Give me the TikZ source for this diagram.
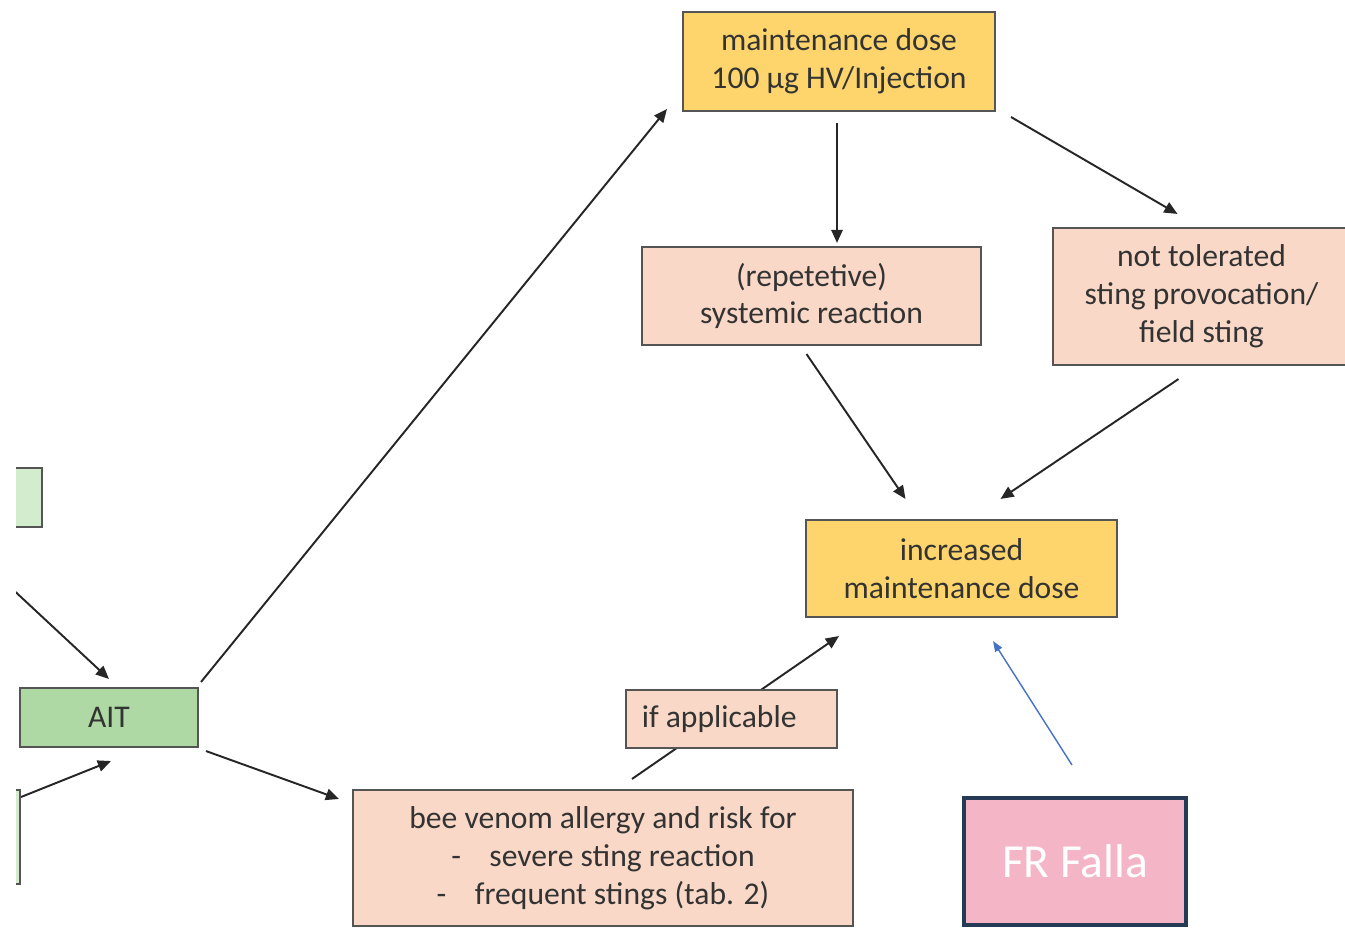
\documentclass[tikz,border=0pt]{standalone}
\usepackage{fontspec}
\setmainfont{Carlito}
\usetikzlibrary{arrows.meta,calc}
\definecolor{txt}{HTML}{333333}
\definecolor{edge}{HTML}{555555}
\definecolor{greenA}{HTML}{AED9A5}
\definecolor{greenB}{HTML}{D3ECCD}
\definecolor{peach}{HTML}{F9D8C7}
\definecolor{yel}{HTML}{FDD56C}
\definecolor{pinkbox}{HTML}{F4B6C6}
\definecolor{navy}{HTML}{243A55}
\definecolor{blueln}{HTML}{4472C4}
\tikzset{
  box/.style={draw=edge, line width=1.2pt, rectangle, inner sep=0pt, align=center,
    text=txt, font=\fontsize{18}{21.5}\selectfont},
  arr/.style={draw=black!85, line width=1.1pt, -{Triangle[length=7.5pt,width=6.5pt]}},
  barr/.style={draw=blueln, line width=0.8pt, -{Triangle[length=6pt,width=4.5pt]}},
}
\begin{document}
\begin{tikzpicture}[x=0.02cm,y=-0.02cm]
\useasboundingbox[fill=white] (0,0) rectangle (1345,928);
\begin{scope}
\clip (16,0) rectangle (1345,928);
\node[box, fill=greenB, minimum width=1.24cm, minimum height=1.18cm] (g1) at (11,497.5) {};
\node[box, fill=greenB, minimum width=1.6cm, minimum height=1.88cm] (g2) at (-20,837) {};
\node[box, fill=greenA, minimum width=3.56cm, minimum height=1.18cm] (ait) at (109,717.5) {AIT};
\node[box, fill=peach, minimum width=10cm, minimum height=2.72cm] (bee) at (603,858)
  {bee venom allergy and risk for\\
   -\hspace{0.9em}severe sting reaction\\
   -\hspace{0.9em}frequent stings (tab. 2)};
\node[box, fill=yel, minimum width=6.24cm, minimum height=1.98cm] (maint) at (839,61.5)
  {maintenance dose\\100 µg HV/Injection};
\node[box, fill=peach, minimum width=6.78cm, minimum height=1.96cm] (rep) at (811.5,296)
  {(repetetive)\\systemic reaction};
\node[box, fill=peach, minimum width=5.94cm, minimum height=2.74cm] (nt) at (1201.5,296.5)
  {not tolerated\\sting provocation/\\field sting};
\node[box, fill=yel, minimum width=6.22cm, minimum height=1.94cm] (inc) at (961.5,568.5)
  {increased\\maintenance dose};
% connectors
\draw[arr] ($(g1.south west)+(-2,28)$) -- ($(ait.north west)+(90,-8)$);
\draw[arr] ($(g2.east)+(0,-40)$) -- ($(ait.south west)+(92,13)$);
\draw[arr] ($(ait.north east)+(2,-5)$) -- ($(maint.south west)+(-15,-3)$);
\draw[arr] ($(ait.south east)+(7,3)$) -- ($(bee.north west)+(-13,10)$);
\draw[arr] ($(bee.north west)+(280,-10)$) -- ($(inc.south west)+(34,18)$);
\node[box, fill=peach, minimum width=4.22cm, minimum height=1.16cm] (ifapp) at (731.5,719)
  {\hspace{-14pt}if applicable};
\draw[arr] ($(maint.south)+(-2,11)$) -- ($(maint.south |- rep.north)+(-2,-3)$);
\draw[arr] ($(maint.south east)+(15,5)$) -- ($(nt.north)+(-24,-13)$);
\draw[arr] ($(rep.south)+(-5,8)$) -- ($(inc.north)+(-56,-20)$);
\draw[arr] ($(nt.south)+(-23,13)$) -- ($(inc.north)+(39,-20)$);
\node[draw=navy, line width=2.3pt, fill=pinkbox, minimum width=4.44cm, minimum height=2.54cm,
  text=white, font=\fontsize{27}{32}\selectfont] (fr) at (1075,861.5) {FR Falla};
\draw[barr] ($(fr.north)+(-3,-31)$) -- ($(inc.south)+(31.5,23)$);
\end{scope}
\end{tikzpicture}
\end{document}
